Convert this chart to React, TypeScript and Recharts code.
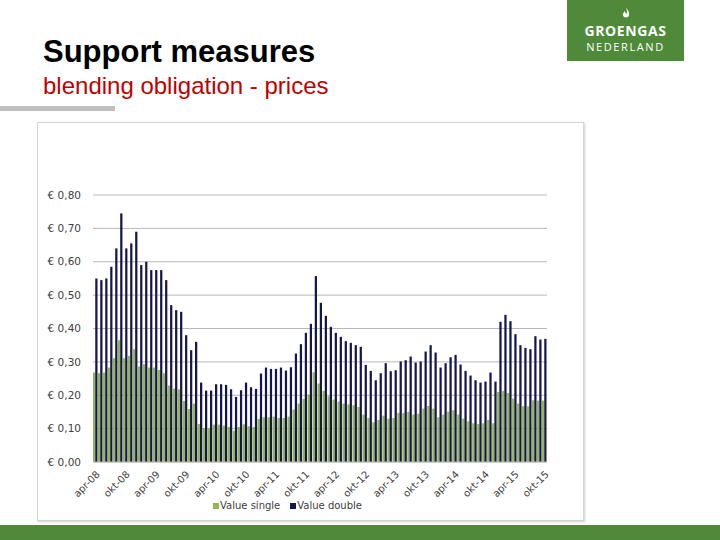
import { BarChart, Bar, XAxis, YAxis, CartesianGrid, Legend } from "recharts";

const MONTHS = ["jan", "feb", "mrt", "apr", "mei", "jun", "jul", "aug", "sep", "okt", "nov", "dec"];
const START_YEAR = 2008;
const START_MONTH = 3; // apr

// blending obligation prices, apr-08 .. okt-15 (EUR)
const VALUE_SINGLE = [
  0.268, 0.266, 0.268, 0.283, 0.311, 0.365, 0.311, 0.318, 0.338, 0.286,
  0.293, 0.283, 0.283, 0.276, 0.266, 0.229, 0.220, 0.218, 0.183, 0.159,
  0.175, 0.114, 0.102, 0.102, 0.112, 0.112, 0.109, 0.105, 0.094, 0.105,
  0.113, 0.107, 0.105, 0.129, 0.134, 0.134, 0.136, 0.132, 0.132, 0.136,
  0.157, 0.175, 0.189, 0.202, 0.269, 0.235, 0.213, 0.197, 0.187, 0.181,
  0.175, 0.173, 0.170, 0.165, 0.142, 0.132, 0.119, 0.126, 0.139, 0.130,
  0.132, 0.147, 0.147, 0.150, 0.142, 0.145, 0.160, 0.168, 0.160, 0.134,
  0.142, 0.151, 0.155, 0.142, 0.130, 0.122, 0.116, 0.114, 0.116, 0.126,
  0.116, 0.210, 0.213, 0.207, 0.190, 0.175, 0.167, 0.167, 0.185, 0.184,
  0.184,
];

const VALUE_DOUBLE = [
  0.550, 0.545, 0.550, 0.585, 0.640, 0.745, 0.640, 0.655, 0.690, 0.590,
  0.600, 0.575, 0.575, 0.575, 0.545, 0.470, 0.455, 0.450, 0.380, 0.335,
  0.360, 0.238, 0.214, 0.214, 0.233, 0.233, 0.231, 0.218, 0.195, 0.215,
  0.238, 0.224, 0.219, 0.265, 0.283, 0.279, 0.279, 0.283, 0.274, 0.284,
  0.325, 0.353, 0.387, 0.414, 0.557, 0.477, 0.438, 0.405, 0.387, 0.375,
  0.362, 0.357, 0.350, 0.345, 0.291, 0.273, 0.245, 0.266, 0.296, 0.272,
  0.275, 0.301, 0.305, 0.316, 0.298, 0.301, 0.331, 0.350, 0.328, 0.283,
  0.296, 0.314, 0.321, 0.292, 0.273, 0.259, 0.245, 0.238, 0.241, 0.268,
  0.241, 0.420, 0.441, 0.422, 0.383, 0.350, 0.342, 0.338, 0.377, 0.367,
  0.369,
];

const Y_TICKS = [0, 0.1, 0.2, 0.3, 0.4, 0.5, 0.6, 0.7, 0.8];
const SERIES_ORDER = ["single", "double"];

const LABELS = VALUE_DOUBLE.map((_, i) => {
  const m = START_MONTH + i;
  const yr = START_YEAR + Math.floor(m / 12);
  return `${MONTHS[m % 12]}-${String(yr % 100).padStart(2, "0")}`;
});

const data = LABELS.map((month, i) => ({
  month,
  single: VALUE_SINGLE[i],
  double: VALUE_DOUBLE[i],
}));

const GREEN = "#4e8a3a";
const AXIS_FONT = { fontSize: 10, fill: "#404040", fontFamily: "DejaVu Sans" };

const euro = (v: number) => "€ " + v.toFixed(2).replace(".", ",");

function Logo() {
  return (
    <div style={{ position: "absolute", left: 567, top: 0, width: 117, height: 61, background: GREEN, color: "#fff", fontFamily: "'Open Sans', 'Liberation Sans', sans-serif", textAlign: "center" }}>
      <svg width="8" height="12" viewBox="0 0 8 12" style={{ position: "absolute", left: 55, top: 7 }}>
        <path d="M4 0 C5 3 8 5 7 8.5 C6.3 11 1.7 11 1 8.5 C0.5 6.5 2 5 3 4 C3 6 4 7 4.6 6.5 C5.5 5 4.5 2.5 4 0 Z" fill="#fff" />
      </svg>
      <div style={{ position: "absolute", left: 0, width: 117, top: 23, fontSize: 14, lineHeight: "15px", fontWeight: 700, letterSpacing: 0.6 }}>GROENGAS</div>
      <div style={{ position: "absolute", left: 0, width: 117, top: 41, fontSize: 11, lineHeight: "12px", letterSpacing: 1.6 }}>NEDERLAND</div>
    </div>
  );
}

export default function App() {
  return (
    <div style={{ position: "absolute", left: 0, top: 0, width: 720, height: 540, background: "#fff", overflow: "hidden", fontFamily: "'Liberation Sans', Arial, sans-serif" }}>
      <div style={{ position: "absolute", left: 43, top: 35, fontSize: 31, fontWeight: 700, color: "#000", lineHeight: "34px" }}>
        Support measures
      </div>
      <div style={{ position: "absolute", left: 43, top: 72, fontSize: 24, color: "#c00000", lineHeight: "27px" }}>
        blending obligation - prices
      </div>
      <div style={{ position: "absolute", left: 0, top: 106, width: 115, height: 5, background: "#bfbfbf" }} />
      <Logo />

      <div style={{ position: "absolute", left: 37, top: 122, width: 545, height: 397, border: "1px solid #d4d4d4", boxShadow: "1px 1px 2px #cfcfcf", background: "#fff" }}>
        <BarChart width={545} height={397} data={data} barGap={0} barCategoryGap={0}
          margin={{ top: 72, right: 36, bottom: 9, left: 0 }}>
          <CartesianGrid vertical={false} stroke="#b8b8b8" />
          <YAxis domain={[0, 0.8]} ticks={Y_TICKS} tickFormatter={euro} width={55}
            axisLine={false} tickLine={false} tick={{ ...AXIS_FONT, fontSize: 10.5 }} tickMargin={6} />
          <XAxis dataKey="month" interval={5} angle={-45} textAnchor="end" height={38}
            tick={AXIS_FONT} tickLine={false} axisLine={{ stroke: "#bfbfbf" }} />
          <Legend verticalAlign="bottom" iconType="square" iconSize={6}
            itemSorter={(item: any) => SERIES_ORDER.indexOf(item.dataKey)}
            wrapperStyle={{ fontSize: 10, fontFamily: "DejaVu Sans", color: "#404040" }}
            formatter={(v) => <span style={{ color: "#404040", marginLeft: -3 }}>{v}</span>} />
          <Bar dataKey="single" name="Value single" fill="#93b752" barSize={3} isAnimationActive={false} />
          <Bar dataKey="double" name="Value double" fill="#16164f" barSize={2} isAnimationActive={false} />
        </BarChart>
      </div>

      <div style={{ position: "absolute", left: 0, top: 525, width: 720, height: 15, background: GREEN }} />
    </div>
  );
}
